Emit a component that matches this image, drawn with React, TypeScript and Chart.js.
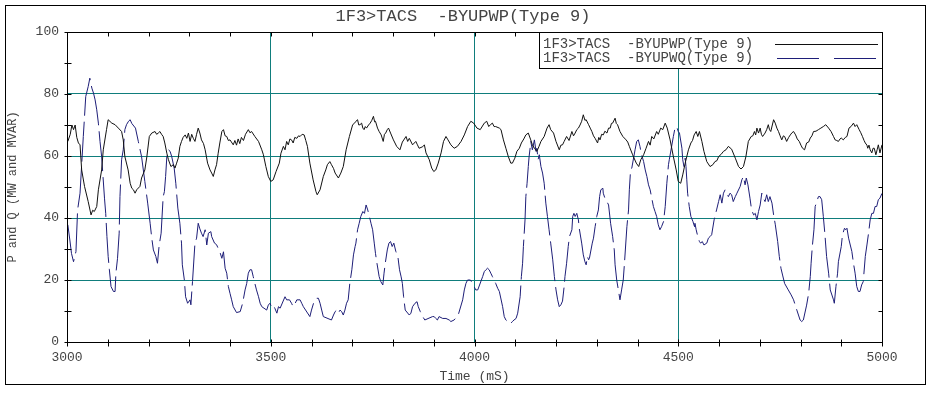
import React, { useEffect, useRef } from 'react';
import { Chart, registerables } from 'chart.js';

Chart.register(...registerables);

const TITLE = '1F3>TACS  -BYUPWP(Type 9)';
const P_LABEL = '1F3>TACS  -BYUPWP(Type 9)';
const Q_LABEL = '1F3>TACS  -BYUPWQ(Type 9)';
const X_TITLE = 'Time (mS)';
const Y_TITLE = 'P and Q (MW and MVAR)';
const X_MIN = 3000;
const X_MAX = 5000;
const X_STEP = 100;
const X_LABEL_STEP = 500;
const Y_MIN = 0;
const Y_MAX = 100;
const Y_STEP = 10;
const Y_LABEL_STEP = 20;

const pTime = [
  3002, 3008, 3012, 3016, 3020, 3024, 3028, 3032, 3036, 3043, 3052, 3059, 3063, 3067, 3073, 3077, 3085, 3089, 3097, 3101,
  3110, 3118, 3126, 3134, 3138, 3142, 3150, 3155, 3159, 3163, 3167, 3171, 3179, 3183, 3191, 3196, 3202, 3208, 3216, 3220,
  3224, 3228, 3232, 3236, 3240, 3245, 3249, 3255, 3261, 3265, 3269, 3273, 3277, 3281, 3285, 3290, 3294, 3298, 3302, 3306,
  3310, 3314, 3318, 3322, 3326, 3330, 3335, 3339, 3345, 3351, 3355, 3359, 3363, 3367, 3371, 3375, 3380, 3384, 3388, 3392,
  3396, 3400, 3408, 3412, 3416, 3420, 3424, 3428, 3433, 3438, 3445, 3449, 3453, 3461, 3470, 3478, 3482, 3488, 3494, 3500,
  3506, 3513, 3521, 3525, 3531, 3535, 3539, 3543, 3547, 3551, 3555, 3559, 3564, 3568, 3572, 3577, 3582, 3586, 3590, 3596,
  3604, 3611, 3614, 3621, 3629, 3635, 3639, 3645, 3649, 3654, 3658, 3666, 3672, 3678, 3685, 3693, 3701, 3705, 3709, 3713,
  3716, 3719, 3723, 3726, 3729, 3732, 3735, 3740, 3744, 3748, 3752, 3755, 3757, 3762, 3766, 3771, 3776, 3779, 3782, 3786,
  3789, 3794, 3801, 3809, 3817, 3823, 3832, 3836, 3840, 3848, 3856, 3860, 3864, 3873, 3877, 3881, 3889, 3895, 3900, 3905,
  3911, 3918, 3924, 3930, 3935, 3942, 3950, 3958, 3967, 3975, 3983, 3991, 3998, 4006, 4014, 4024, 4030, 4035, 4039, 4044,
  4048, 4052, 4061, 4065, 4071, 4077, 4083, 4089, 4093, 4099, 4104, 4110, 4115, 4121, 4126, 4132, 4138, 4142, 4147, 4153,
  4158, 4163, 4171, 4178, 4183, 4187, 4194, 4200, 4208, 4212, 4216, 4220, 4226, 4232, 4239, 4243, 4247, 4251, 4255, 4259,
  4263, 4267, 4271, 4274, 4280, 4284, 4288, 4292, 4296, 4302, 4305, 4308, 4312, 4316, 4320, 4325, 4329, 4333, 4336, 4339,
  4345, 4348, 4351, 4357, 4364, 4372, 4376, 4380, 4388, 4397, 4403, 4408, 4415, 4421, 4427, 4431, 4435, 4440, 4447, 4451,
  4457, 4462, 4468, 4473, 4480, 4488, 4495, 4500, 4506, 4511, 4517, 4525, 4531, 4535, 4539, 4544, 4548, 4552, 4558, 4563,
  4570, 4578, 4585, 4590, 4595, 4599, 4605, 4611, 4617, 4623, 4631, 4640, 4648, 4654, 4660, 4666, 4672, 4679, 4683, 4687,
  4690, 4693, 4697, 4701, 4704, 4707, 4713, 4717, 4721, 4724, 4727, 4734, 4738, 4742, 4746, 4750, 4754, 4758, 4761, 4766,
  4771, 4775, 4779, 4783, 4788, 4792, 4797, 4801, 4805, 4810, 4815, 4820, 4824, 4828, 4832, 4838, 4844, 4850, 4856, 4862,
  4869, 4875, 4881, 4885, 4889, 4893, 4897, 4900, 4905, 4910, 4914, 4919, 4924, 4930, 4934, 4938, 4944, 4948, 4952, 4956,
  4959, 4963, 4965, 4968, 4971, 4975, 4978, 4981, 4985, 4988, 4991, 4995, 5000,
];
const pValue = [
  64.7, 67, 70, 68.5, 70, 66, 64.2, 63.6, 55.5, 50.2, 45.3, 41.0, 42.5, 42.1, 43.7, 49.1, 55.5, 62.0, 68.5, 71.7,
  70.6, 70.1, 69.0, 67.9, 65.2, 59.8, 55.5, 51.2, 49.6, 49.1, 48.0, 49.1, 50.2, 52.9, 55.5, 59.8, 66.3, 67.4, 67.9, 67,
  67.4, 67.9, 67, 66.3, 64.2, 60.9, 58.8, 56.6, 57.2, 56.1, 57.7, 59.3, 63.1, 64.7, 66, 66.8, 65.7, 67.4, 64.7, 67,
  65.7, 64.7, 67, 69.0, 67.4, 65.2, 64, 62.0, 57.7, 55.5, 54.5, 53.4, 55.5, 57.2, 60.9, 64.2, 67.9, 68.5, 66.5, 66.3,
  65, 65.2, 63.6, 65, 63.5, 65.5, 64, 66, 65, 67, 68.5, 67.5, 67.9, 66.3, 64.7, 62.0, 60.4, 56.6, 53.4, 51.8,
  52.3, 55.0, 57.7, 60.9, 63.1, 62, 64.7, 63.6, 65.5, 65.2, 64.2, 66, 65.7, 66.5, 66.3, 67, 66.8, 65, 63.1, 57.7,
  52.3, 48.5, 47.5, 49.1, 53.4, 55.5, 57.2, 58.2, 57.2, 56, 54.5, 52.9, 54.5, 56.6, 62.0, 66.3, 70.1, 70.5, 71.2, 71.7,
  70, 70.1, 70.6, 69, 68.5, 69.5, 69.0, 70, 70.6, 71.5, 72.8, 71, 71.2, 69, 67.9, 66.8, 64.7, 67, 67.4, 68.5,
  69.0, 67.4, 65.2, 63.1, 62.0, 64.5, 66.3, 64.7, 65.7, 63.6, 64.7, 63.6, 62.5, 63, 63.6, 61.0, 58.8, 56.1, 55.0, 55.5,
  57.7, 61.0, 64.7, 66.3, 65.2, 63.6, 62.5, 63.1, 64.7, 66.8, 69.5, 71.2, 70.6, 69.0, 68.5, 70.6, 71.2, 69.5, 70.1, 70.6,
  69.5, 69.5, 69.0, 68.5, 65.2, 62.5, 59.8, 57.7, 57.7, 59.3, 61.5, 62.5, 64.2, 65.5, 66.8, 67.4, 65.2, 63.6, 62.5, 61.5,
  63, 64.7, 66.3, 69.0, 70.1, 68.5, 67.4, 64.7, 62.0, 63.5, 63.6, 64.7, 66.3, 65, 67.9, 66.5, 67.4, 68.5, 69.0, 70,
  71.2, 73.3, 71.5, 71.7, 70.1, 69, 67.9, 66.5, 65.7, 64.2, 66, 65.2, 67, 66.8, 68, 67.4, 69, 69.0, 70.5, 70.6,
  72.2, 70.5, 70.1, 67.9, 66.3, 65.2, 64.5, 63.1, 60.4, 57.7, 56.6, 58.8, 60.4, 62.5, 64.7, 63.5, 66.3, 65.5, 67.9, 67,
  69.0, 68.5, 70.6, 69.0, 65.2, 59.8, 55.5, 51.8, 51.2, 53.9, 57.7, 62.0, 64.2, 65, 66.8, 67.9, 66.3, 67.9, 64.7, 61.5,
  58.2, 56.6, 57.2, 58.2, 58.5, 59.8, 60.5, 61.5, 62, 63.1, 62.2, 59.3, 56.6, 55.8, 56.6, 59.8, 64.7, 66.3, 66.5, 67.9,
  66.8, 69.0, 67.4, 69.0, 67, 66.3, 67.4, 68.5, 70.1, 68.5, 67.9, 71.7, 70.6, 69, 67.9, 66.5, 65.2, 66.5, 66.3, 64.7,
  66, 66.8, 67.5, 67.9, 66.8, 65.5, 64.7, 63.5, 62.5, 62.0, 64.2, 64.5, 65.8, 66.5, 67.9, 68, 68.5, 69, 69.5, 70.1,
  69.0, 67.9, 66.3, 65.2, 65, 64.7, 65.5, 65.8, 65.2, 66, 66.3, 69.0, 69.5, 70.6, 69.5, 70.1, 68.5, 67.5, 66.3, 65,
  64.2, 63.5, 62.5, 63.5, 62.0, 61.0, 62.5, 62.5, 60.4, 62, 63.6, 61.0, 63.6,
];

const qTime = [
  3002, 3007, 3011, 3016, 3022, 3026, 3032, 3040, 3046, 3052, 3056, 3061, 3065, 3069, 3073, 3077, 3081, 3085, 3092, 3095,
  3098, 3101, 3104, 3108, 3114, 3118, 3120, 3124, 3128, 3130, 3134, 3138, 3142, 3146, 3151, 3155, 3159, 3168, 3175, 3183,
  3191, 3198, 3204, 3208, 3212, 3218, 3222, 3226, 3231, 3236, 3239, 3242, 3245, 3249, 3253, 3257, 3263, 3267, 3272, 3277,
  3281, 3283, 3288, 3291, 3296, 3302, 3304, 3308, 3314, 3318, 3322, 3326, 3330, 3334, 3339, 3343, 3347, 3353, 3355, 3362,
  3367, 3371, 3375, 3380, 3384, 3388, 3392, 3396, 3400, 3404, 3408, 3416, 3425, 3431, 3437, 3441, 3445, 3449, 3453, 3457,
  3461, 3465, 3470, 3474, 3478, 3490, 3494, 3498, 3502, 3506, 3510, 3515, 3519, 3523, 3535, 3539, 3546, 3551, 3555, 3560,
  3564, 3572, 3576, 3580, 3596, 3600, 3605, 3609, 3613, 3617, 3621, 3625, 3629, 3649, 3654, 3658, 3662, 3666, 3670, 3674,
  3678, 3682, 3686, 3690, 3694, 3699, 3703, 3707, 3709, 3713, 3717, 3721, 3726, 3730, 3734, 3738, 3742, 3746, 3750, 3754,
  3757, 3760, 3766, 3770, 3775, 3778, 3781, 3786, 3790, 3794, 3798, 3802, 3807, 3812, 3816, 3820, 3823, 3826, 3830, 3840,
  3844, 3848, 3854, 3859, 3862, 3867, 3873, 3878, 3897, 3901, 3905, 3909, 3913, 3922, 3930, 3938, 3942, 3950, 3957, 3960,
  3971, 3975, 3979, 3983, 3990, 3995, 3999, 4003, 4008, 4020, 4024, 4028, 4032, 4036, 4040, 4044, 4048, 4052, 4057, 4061,
  4069, 4073, 4077, 4081, 4085, 4089, 4093, 4097, 4102, 4106, 4112, 4115, 4118, 4120, 4124, 4126, 4129, 4132, 4134, 4137,
  4138, 4142, 4147, 4151, 4153, 4156, 4159, 4163, 4167, 4171, 4175, 4179, 4183, 4187, 4192, 4196, 4200, 4204, 4208, 4212,
  4216, 4220, 4222, 4226, 4230, 4233, 4239, 4241, 4244, 4247, 4251, 4255, 4257, 4263, 4267, 4271, 4274, 4277, 4280, 4282,
  4289, 4292, 4296, 4300, 4304, 4307, 4310, 4315, 4316, 4320, 4325, 4329, 4334, 4339, 4343, 4345, 4349, 4353, 4357, 4361,
  4365, 4368, 4374, 4378, 4380, 4383, 4386, 4394, 4398, 4402, 4406, 4410, 4415, 4419, 4423, 4427, 4431, 4435, 4439, 4443,
  4447, 4451, 4455, 4459, 4464, 4468, 4472, 4476, 4478, 4488, 4492, 4496, 4500, 4503, 4509, 4511, 4514, 4517, 4519, 4521,
  4523, 4527, 4531, 4536, 4540, 4541, 4544, 4548, 4552, 4555, 4559, 4563, 4570, 4574, 4578, 4582, 4588, 4590, 4594, 4599,
  4603, 4607, 4611, 4615, 4619, 4623, 4627, 4631, 4635, 4640, 4644, 4652, 4656, 4660, 4664, 4667, 4671, 4676, 4680, 4685,
  4689, 4693, 4697, 4701, 4705, 4709, 4713, 4717, 4721, 4725, 4730, 4734, 4738, 4744, 4748, 4752, 4756, 4761, 4770, 4777,
  4783, 4787, 4791, 4795, 4799, 4803, 4807, 4815, 4820, 4824, 4826, 4829, 4833, 4836, 4844, 4848, 4852, 4856, 4860, 4864,
  4869, 4873, 4881, 4883, 4887, 4891, 4893, 4900, 4903, 4908, 4911, 4914, 4918, 4926, 4930, 4934, 4938, 4942, 4946, 4950,
  4954, 4959, 4963, 4967, 4971, 4975, 4979, 4983, 4987, 4991, 4995, 5000,
];
const qValue = [
  37.8, 32.9, 28.6, 25.9, 29.2, 42.6, 48, 66.3, 79.2, 82.4, 85.1, 81.9, 80.3, 78.1, 74.9, 70.6, 64.7, 59.8, 46.4, 41.5,
  34, 27.6, 23.3, 17.9, 16.3, 16.3, 22.2, 27, 35.1, 46.9, 58.8, 62, 68.5, 70.1, 71.2, 71.7, 70.5, 69, 64.7, 59.8,
  51.8, 44.8, 38.3, 33.5, 29.7, 27.6, 25.4, 31, 35.1, 46.9, 48.5, 53.4, 59.8, 62, 61.5, 59.8, 56.1, 51.2, 43.2, 38.3,
  31.9, 24.9, 20, 14.6, 12.5, 13.6, 12, 19.5, 31.9, 33.5, 38.3, 36.5, 35.1, 34, 36.2, 31.3, 35.1, 35.6, 34, 31.9,
  31.4, 30.2, 29.1, 27, 29.1, 23.8, 22.2, 17.9, 15.7, 13.6, 11.4, 9.5, 9.8, 12.5, 16.8, 18.9, 22.2, 23.3, 23.3, 21.1,
  18.9, 16.8, 14.6, 12.5, 11.4, 10.3, 11.9, 12.5, 11.4, 11.9, 10.9, 9.3, 11.4, 10.9, 14.6, 13.6, 13.6, 12.5, 11.4, 12.5,
  13.6, 13.6, 12.5, 11.4, 8.2, 10.3, 12.5, 13.6, 14.1, 14.1, 12.5, 10.3, 8.2, 7.1, 8.7, 9.8, 10.3, 9.3, 10.3, 9.8,
  8.7, 10.3, 12.5, 13.6, 18.9, 23.3, 28.1, 30.8, 31.9, 36.2, 38.3, 40.5, 42.1, 41.5, 44.2, 42.6, 40.5, 38.3, 36.2, 31.9,
  28.6, 25.9, 21.1, 19.5, 18.4, 22.2, 25.4, 29.7, 31.9, 32.4, 30.8, 31.9, 29.2, 27.5, 23.3, 21, 18.9, 14.6, 10.3, 8.7,
  9.3, 11.4, 12.5, 13, 11.4, 9.8, 8.2, 7.1, 8.2, 8.2, 7.6, 7.1, 8.2, 7.6, 7.6, 7.1, 6.6, 7.1, 8.2, 8.7,
  13.6, 16.8, 18.9, 20, 20, 18.9, 17.9, 16.8, 16.8, 21.1, 22.7, 23.3, 23.8, 23.3, 22.2, 21.1, 20, 18.9, 17.3, 16.3,
  11.4, 8.2, 7.1, 6.6, 6, 6, 6.6, 7.1, 7.6, 9.3, 14.6, 21.1, 25.4, 30.8, 39.4, 46.9, 51.2, 56.6, 59.8, 63.1,
  64.7, 62, 65.2, 61.5, 62.5, 58.8, 60.4, 56.6, 54.5, 51.2, 44.8, 40.5, 36.2, 31.9, 26.5, 21.1, 16.8, 13.6, 11.4, 12,
  13.2, 17.9, 21.1, 25.4, 30.8, 34, 36.2, 40.5, 41.5, 40.5, 41.5, 39.4, 36.7, 31.9, 28.1, 25.9, 24.9, 27.6, 26.5, 27,
  31.9, 33.5, 37.2, 40.5, 42.6, 46.9, 49.1, 49.6, 48, 46.4, 45.3, 44.2, 38.3, 34, 29.7, 24.9, 20, 16.8, 13.6, 16.8,
  20, 25.4, 37.2, 42.6, 49.1, 55.5, 56.1, 62, 64.7, 65.2, 63.1, 60.4, 58.2, 55.5, 53.4, 50.7, 49.1, 46.4, 43.7, 42.1,
  40.5, 37.8, 36.2, 37.2, 38.9, 43.7, 51.2, 57.2, 58.8, 66.3, 69, 69.5, 67.9, 67.4, 62.5, 58.8, 56.6, 59.3, 56.6, 52.3,
  48, 43.7, 40.5, 38.9, 37.2, 38.3, 36.2, 34, 32.4, 31.9, 32.4, 31.3, 31.9, 33.5, 34, 34.6, 39.4, 40.5, 42.6, 45.3,
  47.5, 44.8, 48, 49.1, 48, 46.9, 48, 47.5, 45.3, 46.9, 48, 50.2, 52.3, 53.4, 50.7, 52.9, 50.7, 46.4, 42.6, 41,
  41.5, 39.4, 42.1, 44.2, 48, 46.4, 45.3, 47.5, 45.3, 46.9, 44.8, 41, 38, 32.4, 27.6, 23.8, 21.6, 18.9, 16.8, 15.2,
  13.6, 11.9, 10.3, 8.7, 7.1, 6.6, 7.1, 11.9, 15.7, 21.1, 25.4, 30.8, 36.2, 43.7, 46.9, 46.9, 45.9, 40.5, 34.6, 27.6,
  22.2, 16.8, 13.6, 12.5, 17.9, 22.2, 25.9, 30.8, 34.6, 36.7, 36.2, 36.7, 33.5, 29.2, 25.4, 22.2, 17.9, 16.3, 16.3, 18.4,
  19.5, 27.6, 31.3, 35.1, 39.4, 41.5, 41.5, 43.7, 43.7, 45.9, 46.4, 48,
];

const TEAL = '#0f7d7c';
const P_COLOR = '#111111';
const Q_COLOR = '#1e1e78';
const TEXT_COLOR = '#444444';
const MONO = '"Liberation Mono", "DejaVu Sans Mono", monospace';

const decorPlugin = {
  id: 'decor',
  beforeDraw(chart: any) {
    const ctx = chart.ctx;
    ctx.save();
    ctx.fillStyle = '#ffffff';
    ctx.fillRect(0, 0, chart.width, chart.height);
    ctx.restore();
  },
  afterDraw(chart: any) {
    const ctx = chart.ctx;
    const { left, right, top, bottom } = chart.chartArea;
    const xs = chart.scales.x;
    const ys = chart.scales.y;
    ctx.save();
    ctx.strokeStyle = '#000';
    ctx.lineWidth = 1;
    // outer frame
    ctx.strokeRect(5.5, 5.5, 920, 379);
    // plot frame
    const L = Math.round(left) + 0.5;
    const R = Math.round(right) + 0.5;
    const T = Math.round(top) + 0.5;
    const B = Math.round(bottom) + 0.5;
    ctx.strokeRect(L, T, R - L, B - T);
    // tick marks
    ctx.beginPath();
    for (let v = X_MIN; v <= X_MAX; v += X_STEP) {
      const px = Math.round(xs.getPixelForValue(v)) + 0.5;
      ctx.moveTo(px, B - 3);
      ctx.lineTo(px, B + 4);
      ctx.moveTo(px, T);
      ctx.lineTo(px, T + 4);
    }
    for (let v = Y_MIN; v <= Y_MAX; v += Y_STEP) {
      const py = Math.round(ys.getPixelForValue(v)) + 0.5;
      ctx.moveTo(L - 3, py);
      ctx.lineTo(L + 4, py);
      ctx.moveTo(R - 4, py);
      ctx.lineTo(R, py);
    }
    ctx.stroke();

    // title
    ctx.fillStyle = TEXT_COLOR;
    ctx.font = '17px ' + MONO;
    ctx.textAlign = 'center';
    ctx.textBaseline = 'middle';
    ctx.fillText(TITLE, 463, 16);

    // legend box
    const bx = 539.5;
    const by = T;
    const bw = R - bx;
    const bh = 36;
    ctx.fillStyle = '#ffffff';
    ctx.fillRect(bx, by, bw, bh);
    ctx.strokeStyle = '#000';
    ctx.strokeRect(bx, by, bw, bh);
    ctx.font = '14px ' + MONO;
    ctx.textAlign = 'left';
    ctx.fillStyle = TEXT_COLOR;
    const ds = chart.data.datasets;
    const rows = [44, 58];
    ds.forEach((d: any, i: number) => {
      ctx.fillText(d.label, 543, rows[i] + 0.5);
      ctx.beginPath();
      ctx.strokeStyle = d.borderColor;
      ctx.setLineDash(i === 0 ? [] : [42, 15]);
      ctx.moveTo(i === 0 ? 775 : 777, rows[i] + 0.5);
      ctx.lineTo(878, rows[i] + 0.5);
      ctx.stroke();
    });
    ctx.setLineDash([]);
    ctx.restore();
  },
};

export default function App() {
  const ref = useRef<HTMLCanvasElement | null>(null);
  useEffect(() => {
    if (!ref.current) return;
    const chart = new Chart(ref.current, {
      type: 'line',
      data: {
        datasets: [
          {
            label: P_LABEL,
            data: pTime.map((t, i) => ({ x: t, y: pValue[i] })),
            borderColor: P_COLOR,
            borderWidth: 1,
            pointRadius: 0,
            tension: 0,
            fill: false,
          },
          {
            label: Q_LABEL,
            data: qTime.map((t, i) => ({ x: t, y: qValue[i] })),
            borderColor: Q_COLOR,
            borderWidth: 1,
            borderDash: [40, 6],
            pointRadius: 0,
            tension: 0,
            fill: false,
          },
        ],
      },
      options: {
        responsive: false,
        animation: false,
        devicePixelRatio: 1,
        layout: { padding: { top: 32, right: 51, left: 0, bottom: 0 } },
        plugins: {
          legend: { display: false },
          title: { display: false },
          tooltip: { enabled: false },
        },
        scales: {
          x: {
            type: 'linear',
            min: X_MIN,
            max: X_MAX,
            afterFit: (s: any) => {
              s.height = 52;
            },
            ticks: {
              stepSize: X_STEP,
              autoSkip: false,
              maxRotation: 0,
              padding: 8,
              color: TEXT_COLOR,
              font: { family: MONO, size: 13 },
              callback: (v: any) => (Number(v) % X_LABEL_STEP === 0 ? String(v) : ''),
            },
            grid: {
              drawTicks: false,
              lineWidth: 1,
              color: (c: any) => {
                const v = c.tick ? c.tick.value : NaN;
                return v % X_LABEL_STEP === 0 && v > X_MIN && v < X_MAX ? TEAL : 'rgba(0,0,0,0)';
              },
            },
            border: { display: false },
            title: {
              display: true,
              text: X_TITLE,
              color: TEXT_COLOR,
              font: { family: MONO, size: 13 },
              padding: { top: 0, bottom: 10 },
            },
          },
          y: {
            type: 'linear',
            min: Y_MIN,
            max: Y_MAX,
            afterFit: (s: any) => {
              s.width = 67;
            },
            ticks: {
              stepSize: Y_STEP,
              autoSkip: false,
              padding: 8,
              color: TEXT_COLOR,
              font: { family: MONO, size: 13 },
              callback: (v: any) => (Number(v) % Y_LABEL_STEP === 0 ? String(v) : ''),
            },
            grid: {
              drawTicks: false,
              lineWidth: 1,
              color: (c: any) => {
                const v = c.tick ? c.tick.value : NaN;
                return v % Y_LABEL_STEP === 0 && v > Y_MIN && v < Y_MAX ? TEAL : 'rgba(0,0,0,0)';
              },
            },
            border: { display: false },
            title: {
              display: true,
              text: Y_TITLE,
              color: TEXT_COLOR,
              font: { family: MONO, size: 12 },
              padding: { top: 6, bottom: 0 },
            },
          },
        },
      },
      plugins: [decorPlugin],
    } as any);
    return () => chart.destroy();
  }, []);

  return (
    <div style={{ position: 'fixed', left: 0, top: 0, width: 933, height: 394, background: '#fff' }}>
      <canvas ref={ref} width={933} height={394} style={{ display: 'block' }} />
    </div>
  );
}
